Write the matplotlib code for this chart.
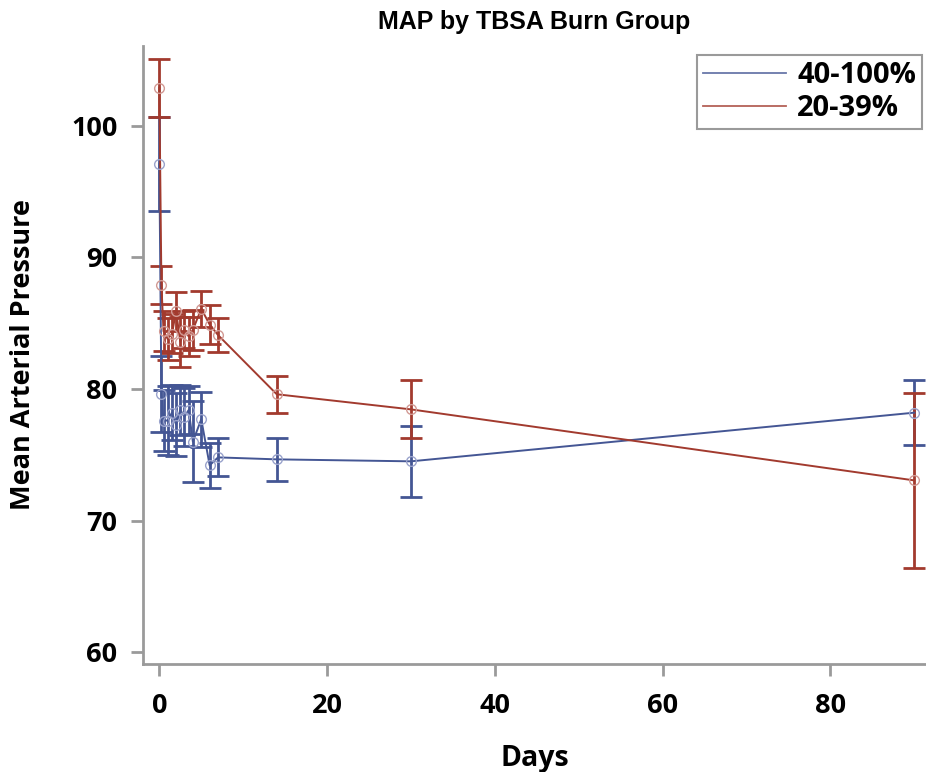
import matplotlib
matplotlib.use("Agg")
import matplotlib.pyplot as plt
from matplotlib.lines import Line2D

# ---- data ----
days = [0, 0.25, 0.5, 1, 1.5, 2, 2.5, 3, 3.5, 4, 5, 6, 7, 14, 30, 90]

blue_label = "40-100%"
blue_mean = [97.1, 79.6, 77.6, 77.6, 78.2, 77.3, 78.4, 77.9, 78.4, 76.0, 77.7, 74.2, 74.8, 74.65, 74.5, 78.2]
blue_err  = [3.6, 2.9, 2.3, 2.6, 2.1, 2.4, 1.9, 2.2, 1.8, 3.1, 2.1, 1.7, 1.45, 1.65, 2.7, 2.45]

red_label = "20-39%"
red_mean = [102.9, 87.9, 84.4, 83.8, 84.2, 85.9, 83.6, 84.5, 84.0, 84.5, 86.1, 84.9, 84.1, 79.6, 78.45, 73.05]
red_err  = [2.2, 1.45, 1.5, 1.6, 1.5, 1.5, 1.9, 1.4, 1.5, 1.5, 1.35, 1.5, 1.3, 1.4, 2.2, 6.65]

yticks = [60, 70, 80, 90, 100]
xticks = [0, 20, 40, 60, 80]

BLUE = "#445694"
RED = "#A23A2E"
BLUE_M = "#9AA3CC"
RED_M = "#D29A94"

fig = plt.figure(figsize=(9.26, 7.72), dpi=100)
ax = fig.add_axes([143.3/926, 1-664/772, 1-143.3/926, (664-46)/772])

for mean, err, c, mc in [(blue_mean, blue_err, BLUE, BLUE_M), (red_mean, red_err, RED, RED_M)]:
    ax.errorbar(days, mean, yerr=err, fmt="none", ecolor=c, elinewidth=2.0,
                capsize=8.0, capthick=2.0, zorder=2)
    ax.plot(days, mean, color=c, lw=1.4, zorder=3)
    ax.plot(days, mean, ls="none", marker="o", ms=7, mfc="none", mec=mc, mew=1.0, zorder=4)

ax.set_xlim(-1.91, 91.4)
ax.set_ylim(59.09, 106.08)
ax.set_xticks(xticks)
ax.set_yticks(yticks)

for s in ["top", "right"]:
    ax.spines[s].set_visible(False)
for s in ["left", "bottom"]:
    ax.spines[s].set_color("#9a9a9a")
    ax.spines[s].set_linewidth(2.0)
ax.tick_params(axis="both", direction="out", length=8.6, width=2.0, color="#9a9a9a",
               labelsize=19.5, pad=10)
ax.tick_params(axis="x", pad=12)
for lab in ax.get_xticklabels() + ax.get_yticklabels():
    lab.set_fontweight("bold")
    lab.set_family("Open Sans")

ax.set_xlabel("Days", fontsize=20.5, fontweight="bold", family="Open Sans", labelpad=18)
ax.set_ylabel("Mean Arterial Pressure", fontsize=19.5, fontweight="bold", family="Open Sans", labelpad=25)
fig.text(534.5/926, 1-22/772, "MAP by TBSA Burn Group", ha="center", va="center",
         fontsize=18, fontweight="bold", family="Liberation Sans")

handles = [Line2D([0], [0], color=BLUE, lw=1.3, alpha=0.8),
           Line2D([0], [0], color=RED, lw=1.3, alpha=0.8)]
leg = ax.legend(handles, [blue_label, red_label], loc="upper right",
                bbox_to_anchor=(922/926, 1-55/772), bbox_transform=fig.transFigure,
                borderaxespad=0.0,
                prop={"family": "Open Sans", "weight": "bold", "size": 21},
                handlelength=2.85, handletextpad=0.4, borderpad=0.2,
                labelspacing=0.15,
                fancybox=False, framealpha=1, edgecolor="#9a9a9a")
leg.get_frame().set_linewidth(1.5)

fig.savefig("out.png", dpi=100)
